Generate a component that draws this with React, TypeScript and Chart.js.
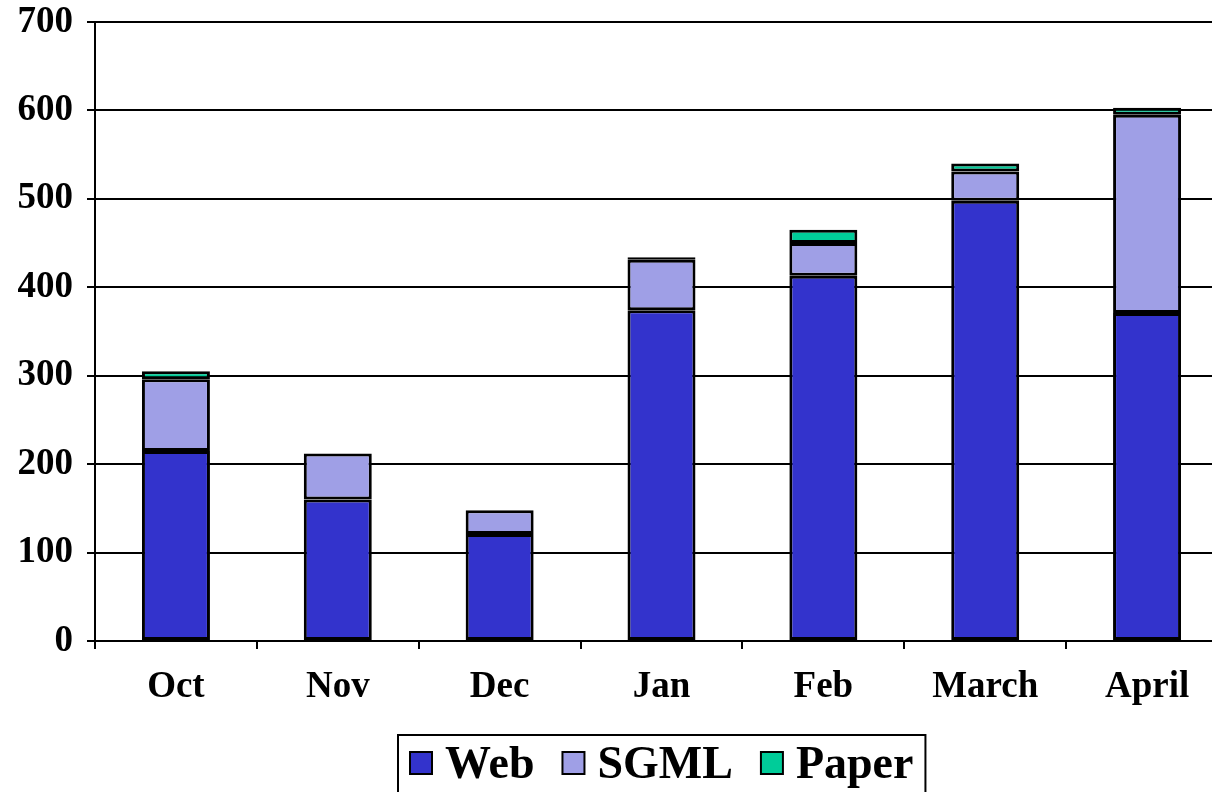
import React, { useEffect, useRef } from "react";
import { Chart, registerables } from "chart.js";

Chart.register(...registerables);

const categories = ["Oct", "Nov", "Dec", "Jan", "Feb", "March", "April"];
const webValues = [215, 160, 121, 374, 413, 498, 371];
const sgmlValues = [81, 52, 27, 57, 37, 33, 224];
const paperValues: (number | null)[] = [9, null, null, 3, 15, 9, 8];
const yTicks = [0, 100, 200, 300, 400, 500, 600, 700];

const seriesNames = ["Web", "SGML", "Paper"];
const seriesColors = ["#3333CC", "#9F9FE6", "#00CC99"];

const FONT = "'Times New Roman', 'Liberation Serif', serif";

const legendPlugin = {
  id: "boxedLegend",
  afterDraw(chart: any) {
    const ctx = chart.ctx as CanvasRenderingContext2D;
    const area = chart.chartArea;
    ctx.save();
    ctx.font = `bold 46px ${FONT}`;
    ctx.textBaseline = "alphabetic";
    const box = 22;
    const gapBoxText = 13;
    const gapItem = 28;
    const padX = 12;
    const widths = seriesNames.map((n) => ctx.measureText(n).width);
    let total = padX * 2;
    widths.forEach((w, i) => {
      total += box + gapBoxText + w + (i < widths.length - 1 ? gapItem : 0);
    });
    const cx = (area.left + area.right) / 2;
    const left = Math.round(cx - total / 2);
    const top = 735;
    ctx.lineWidth = 2;
    ctx.strokeStyle = "#000";
    ctx.strokeRect(left, top, total, 80);
    let x = left + padX;
    const baseline = 778;
    seriesNames.forEach((n, i) => {
      ctx.fillStyle = seriesColors[i];
      ctx.fillRect(x, 752, box, box);
      ctx.strokeRect(x, 752, box, box);
      x += box + gapBoxText;
      ctx.fillStyle = "#000";
      ctx.fillText(n, x, baseline);
      x += widths[i] + gapItem;
    });
    ctx.restore();
  },
};

export default function App() {
  const ref = useRef<HTMLCanvasElement | null>(null);
  useEffect(() => {
    if (!ref.current) return;
    const values = [webValues, sgmlValues, paperValues];
    const chart = new Chart(ref.current, {
      type: "bar",
      data: {
        labels: categories,
        datasets: seriesNames.map((name, i) => ({
          label: name,
          data: values[i] as any,
          backgroundColor: seriesColors[i],
          borderColor: "#000",
          borderWidth: 3,
          borderSkipped: false,
          barPercentage: 0.84,
          categoryPercentage: 0.5,
        })),
      },
      plugins: [legendPlugin],
      options: {
        responsive: false,
        animation: false,
        layout: { padding: { top: 22, right: 0, bottom: 71, left: 0 } },
        plugins: { legend: { display: false }, tooltip: { enabled: false } },
        scales: {
          x: {
            stacked: true,
            offset: true,
            grid: {
              offset: true,
              drawOnChartArea: false,
              drawTicks: true,
              tickLength: 8,
              color: "#000",
              lineWidth: 2,
            },
            border: { color: "#000", width: 2 },
            ticks: {
              color: "#000",
              padding: 16,
              font: { family: FONT, size: 37, weight: "bold" },
              maxRotation: 0,
            },
            afterFit(scale: any) {
              scale.height = 80;
              scale.paddingLeft = 0;
              scale.paddingRight = 0;
            },
          },
          y: {
            stacked: true,
            min: 0,
            max: 700,
            afterBuildTicks(scale: any) {
              scale.ticks = yTicks.map((v) => ({ value: v }));
            },
            grid: {
              color: "#000",
              lineWidth: 2,
              tickLength: 8,
            },
            border: { color: "#000", width: 2 },
            ticks: {
              color: "#000",
              padding: 14,
              font: { family: FONT, size: 37, weight: "bold" },
            },
            afterFit(scale: any) {
              scale.width = 95;
              scale.paddingTop = 0;
              scale.paddingBottom = 0;
            },
          },
        },
      },
    } as any);
    return () => chart.destroy();
  }, []);
  return (
    <div
      style={{
        position: "fixed",
        left: 0,
        top: 0,
        width: 1212,
        height: 792,
        overflow: "hidden",
        background: "#fff",
      }}
    >
      <canvas ref={ref} width={1228} height={792} style={{ display: "block" }} />
    </div>
  );
}
